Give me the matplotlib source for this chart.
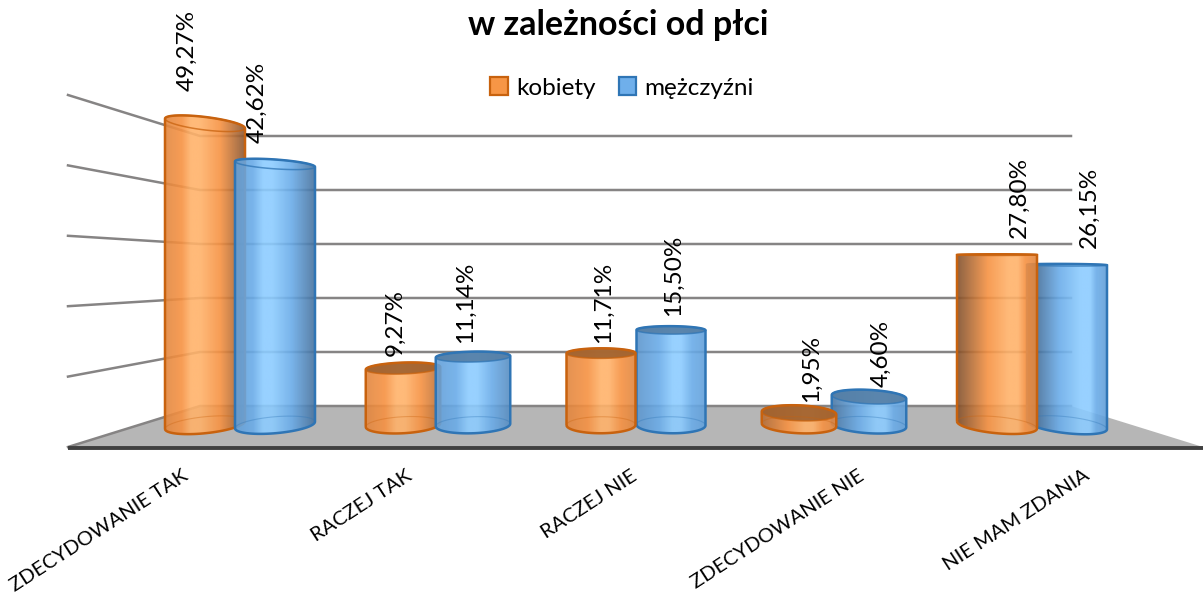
import numpy as np
import matplotlib
matplotlib.use('Agg')
import matplotlib.pyplot as plt
from matplotlib.patches import Patch, PathPatch, Polygon
from matplotlib.path import Path

categories = ['ZDECYDOWANIE TAK', 'RACZEJ TAK', 'RACZEJ NIE', 'ZDECYDOWANIE NIE', 'NIE MAM ZDANIA']
kobiety = [49.27, 9.27, 11.71, 1.95, 27.80]
mezczyzni = [42.62, 11.14, 15.50, 4.60, 26.15]
wall_ticks = [0, 10, 20, 30, 40, 50]

plt.rcParams['font.family'] = ['Lato', 'DejaVu Sans']

W, H = 1203, 594
SX = 198.0    # pikseli na kategorie
SY = 6.12     # pikseli na procent
X0 = 240.0    # srodek pierwszej grupy
Y0 = 425.0    # poziom zera z przodu
EYE = 27.8    # wysokosc oka, tu gorna elipsa znika
CENTER = 620.0

ORANGE = dict(base=(247, 146, 66), high=(255, 178, 106), dark=(70, 48, 36), edge='#C8620E', top='#A0622F')
BLUE = dict(base=(106, 172, 233), high=(140, 204, 255), dark=(40, 62, 90), edge='#2F75B5', top='#557FA6')

# przesuniecia etykiet wartosci nad cylindrem
lift_k = [32, 12, 10, 11, 17]
lift_m = [21, 14, 14, 10, 17]
cat_dx = [-58, -32, -5, 24, 51]
front_first = [1, 1, 0, 0, 0]   # 1 - niebieski rysowany na wierzchu

fig = plt.figure(figsize=(W / 100, H / 100), dpi=100)

# tlo w pikselach: sciany i podloga
bg = fig.add_axes([0, 0, 1, 1], zorder=0)
bg.set_xlim(0, W)
bg.set_ylim(H, 0)
bg.axis('off')
bg.add_patch(Polygon([(68, 447), (200, 406), (1071, 406), (1203, 447)], closed=True,
                     fc='#B6B6B6', ec='none'))
for k, t in enumerate(wall_ticks):
    yb = 406 - 5.4 * t
    yl = 447 - 7.04 * t
    bg.plot([68, 200, 1071], [yl, yb, yb], color='#868484', lw=1.8, solid_joinstyle='miter')
bg.plot([68, 1203], [448, 448], color='#404040', lw=2.8, solid_capstyle='butt')

# wlasciwy wykres: x w kategoriach, y w procentach
ax = fig.add_axes([0, 0, 1, 1], zorder=1)
ax.patch.set_visible(False)
ax.axis('off')
xlim = (-X0 / SX, (W - X0) / SX)
ylim = ((Y0 - H) / SY, Y0 / SY)


def gradient(col, dx):
    side = dx / 420.0
    pos = 0.55 + 0.17 * side
    dl = 0.12 + 0.62 * max(side, 0)
    dr = 0.12 + 0.50 * max(-side, 0)
    base = np.array(col['base'], float)
    high = np.array(col['high'], float)
    dark = np.array(col['dark'], float)
    left = base + (dark - base) * dl
    right = base + (dark - base) * dr
    stops = [0, pos * 0.55, pos - 0.06, pos + 0.06, pos + (1 - pos) * 0.5, 1]
    colors = [left, base, high, high, base, right]
    s = np.linspace(0, 1, 256)
    img = np.zeros((1, 256, 3))
    for c in range(3):
        img[0, :, c] = np.interp(s, stops, [v[c] for v in colors]) / 255
    return img


def ellipse(xc, v, half, t):
    # elipsa w rzucie: im dalej od srodka i od oka, tym bardziej pochylona
    dx = xc * SX + X0 - CENTER
    dy = (v - EYE) * SY
    a = half * SX
    b = 0.045 * abs(dy) + 0.6
    slope = (2.2e-6 if dy > 0 else 1.4e-6) * dx * dy
    x = xc + a * np.cos(t) / SX
    y = v + (b * np.sin(t) + slope * a * np.cos(t)) / SY
    return x, y


def cylinder(xc, v, half, col, z):
    dx = xc * SX + X0 - CENTER
    back = np.linspace(np.pi, 0, 40)      # tylny luk elipsy
    front = np.linspace(np.pi, 2 * np.pi, 40)   # przedni luk
    tx, ty = ellipse(xc, v, half, back)
    bx, by = ellipse(xc, 0, half, front)
    verts = np.vstack([np.column_stack([bx, by]), np.column_stack([tx[::-1], ty[::-1]])])
    verts = np.vstack([verts, verts[0]])
    path = Path(verts)
    lo, hi = by.min() - 1, ty.max() + 1
    im = ax.imshow(gradient(col, dx), extent=(xc - half, xc + half, lo, hi), aspect='auto',
                   alpha=0.9, zorder=z, interpolation='bilinear')
    patch = PathPatch(path, fc='none', ec=col['edge'], lw=1.8, zorder=z + 0.2)
    ax.add_patch(patch)
    im.set_clip_path(patch)
    # gorna elipsa
    t = np.linspace(0, 2 * np.pi, 80)
    ex, ey = ellipse(xc, v, half, t)
    if v < EYE - 2:
        ax.fill(ex, ey, color=col['top'], alpha=0.92, zorder=z + 0.1, lw=0)
    ax.plot(ex, ey, color=col['edge'], lw=1.1, alpha=0.75, zorder=z + 0.3)
    # slady dolnej elipsy
    ex, ey = ellipse(xc, 0, half, back)
    ax.plot(ex, ey, color=col['edge'], lw=0.8, alpha=0.35, zorder=z + 0.3)


offset = 35 / SX
for i in range(len(categories)):
    half = (34.5 + 2.75 * abs(i - 2)) / SX
    z_k, z_m = (3, 4) if front_first[i] else (4, 3)
    cylinder(i - offset, kobiety[i], half, ORANGE, z_k)
    cylinder(i + offset, mezczyzni[i], half, BLUE, z_m)
    shift = 10 * (i - 2) + 2
    for xc, v, lift in [(i - offset, kobiety[i], lift_k[i]), (i + offset, mezczyzni[i], lift_m[i])]:
        ax.annotate(f'{v:.2f}%'.replace('.', ','), xy=(xc, v), xycoords='data',
                    xytext=(shift, lift), textcoords='offset pixels', rotation=90,
                    ha='center', va='bottom', fontsize=17.5, color='black', zorder=8)
    ax.annotate(categories[i], xy=(i, 0), xycoords='data', xytext=(cat_dx[i], -42),
                textcoords='offset pixels', rotation=33, rotation_mode='anchor',
                ha='right', va='top', fontsize=14.5, color='black', zorder=8)

ax.set_xlim(xlim)
ax.set_ylim(ylim)

fig.text(618 / W, 1 - 25 / H, 'w zależności od płci', ha='center', va='center',
         fontsize=24.5, fontweight='bold', color='black')

handles = [Patch(fc='#F79646', ec=ORANGE['edge'], lw=1.6, label='kobiety'),
           Patch(fc='#6FAFEB', ec=BLUE['edge'], lw=1.6, label='mężczyźni')]
ax.legend(handles=handles, ncol=2, frameon=False, loc='center',
          bbox_to_anchor=(622 / W, 1 - 88 / H), bbox_transform=fig.transFigure,
          fontsize=17.5, handlelength=0.72, handleheight=0.72, handletextpad=0.35,
          columnspacing=0.95)

fig.savefig('out.png', dpi=100)
